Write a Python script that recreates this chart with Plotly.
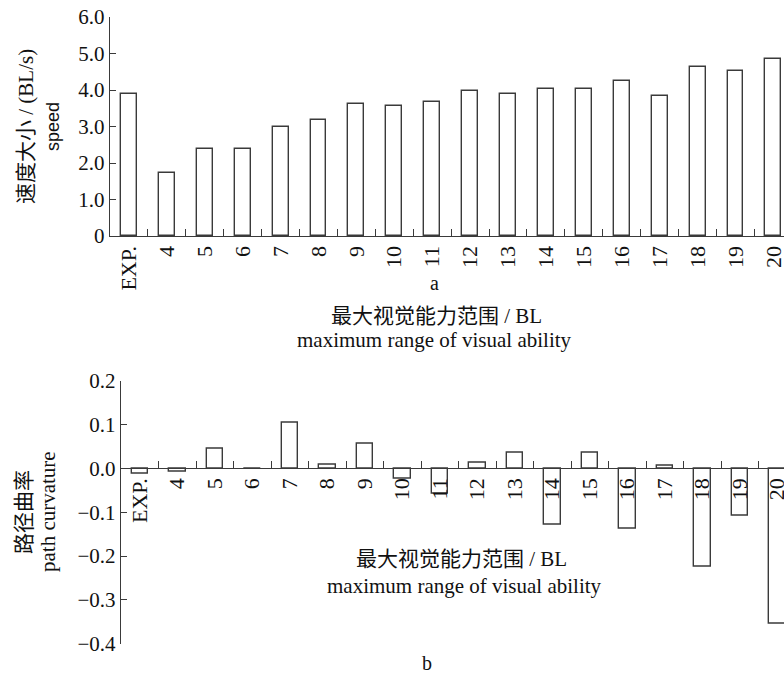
import plotly.graph_objects as go

categories = ["EXP.", "4", "5", "6", "7", "8", "9", "10", "11", "12", "13", "14",
              "15", "16", "17", "18", "19", "20"]
speed = [3.9, 1.73, 2.37, 2.37, 2.99, 3.19, 3.62, 3.55, 3.66, 3.96, 3.90, 4.03,
         4.03, 4.24, 3.83, 4.64, 4.53, 4.84]
curvature = [-0.013, -0.008, 0.044, 0.0, 0.104, 0.008, 0.056, -0.023, -0.057, 0.014,
             0.036, -0.129, 0.036, -0.138, 0.006, -0.225, -0.108, -0.354]

speed_ticks = [0, 1, 2, 3, 4, 5, 6]
speed_ticktext = ["0", "1.0", "2.0", "3.0", "4.0", "5.0", "6.0"]
curv_ticks = [-0.4, -0.3, -0.2, -0.1, 0.0, 0.1, 0.2]
curv_ticktext = ["\u22120.4", "\u22120.3", "\u22120.2", "\u22120.1", "0.0", "0.1", "0.2"]

W, H = 784, 673
SERIF = "Liberation Serif, 'Noto Sans CJK SC', serif"
LINE = "#3a3a3a"

def px(x):
    return x / W

def py(y):
    return (H - y) / H

fig = go.Figure()
fig.add_trace(go.Bar(x=categories, y=speed, width=0.42, xaxis="x", yaxis="y",
                     marker=dict(color="white", line=dict(color=LINE, width=1.4)),
                     showlegend=False))
fig.add_trace(go.Bar(x=categories, y=curvature, width=0.44, xaxis="x2", yaxis="y2",
                     marker=dict(color="white", line=dict(color=LINE, width=1.4)),
                     showlegend=False))

y2_d0, y2_d1 = py(643.7), py(380.7)
zero_pos = y2_d0 + (0.4 / 0.6) * (y2_d1 - y2_d0)

tickfont = dict(family=SERIF, size=22, color="#111")
common_x = dict(type="category", tickangle=-90, showgrid=False, zeroline=False,
                showline=True, linecolor=LINE, linewidth=1.4, automargin=False,
                ticks="inside", ticklen=7, tickcolor=LINE, tickwidth=1.4,
                tickson="boundaries", tickfont=tickfont)
common_y = dict(showgrid=False, zeroline=False, showline=True, linecolor=LINE,
                linewidth=1.4, ticks="inside", ticklen=6, tickcolor=LINE,
                tickwidth=1.4, tickfont=dict(family=SERIF, size=21, color="#111"),
                automargin=False)

fig.update_layout(
    template="none",
    width=W, height=H,
    margin=dict(l=0, r=0, t=0, b=0, pad=0),
    paper_bgcolor="white", plot_bgcolor="white",
    bargap=0,
    xaxis=dict(domain=[px(110), 1], range=[-0.5, 17.28], anchor="y", **common_x),
    yaxis=dict(domain=[py(236), py(17)], range=[0, 6], anchor="x",
               tickvals=speed_ticks, ticktext=speed_ticktext, **common_y),
    xaxis2=dict(domain=[px(121), 1], range=[-0.5, 17.18], anchor="free",
                position=zero_pos, **common_x),
    yaxis2=dict(domain=[y2_d0, y2_d1], range=[-0.4, 0.2], anchor="x2",
                tickvals=curv_ticks, ticktext=curv_ticktext, **common_y),
)

def ann(x, y, text, size=21, angle=0, family=SERIF):
    fig.add_annotation(x=px(x), y=py(y), xref="paper", yref="paper", text=text,
                       showarrow=False, textangle=angle, xanchor="center",
                       yanchor="middle", font=dict(family=family, size=size, color="#111"))

# top chart titles
ann(26, 127, "速度大小 / (BL/s)", size=21, angle=-90)
ann(53, 127, "speed", size=18, angle=-90, family="Liberation Sans, Arial, sans-serif")
ann(436, 316, "最大视觉能力范围 / BL", size=21)
ann(434, 340, "maximum range of visual ability", size=21)
ann(434, 283, "a", size=20)

# bottom chart titles
ann(24, 512, "路径曲率", size=21, angle=-90)
ann(48, 512, "path curvature", size=21, angle=-90)
ann(461, 559, "最大视觉能力范围 / BL", size=21)
ann(464, 586, "maximum range of visual ability", size=21)
ann(427, 663, "b", size=20)

fig.write_html("out.html", config={"displayModeBar": False},
               post_script="document.body.style.margin='0px';")
